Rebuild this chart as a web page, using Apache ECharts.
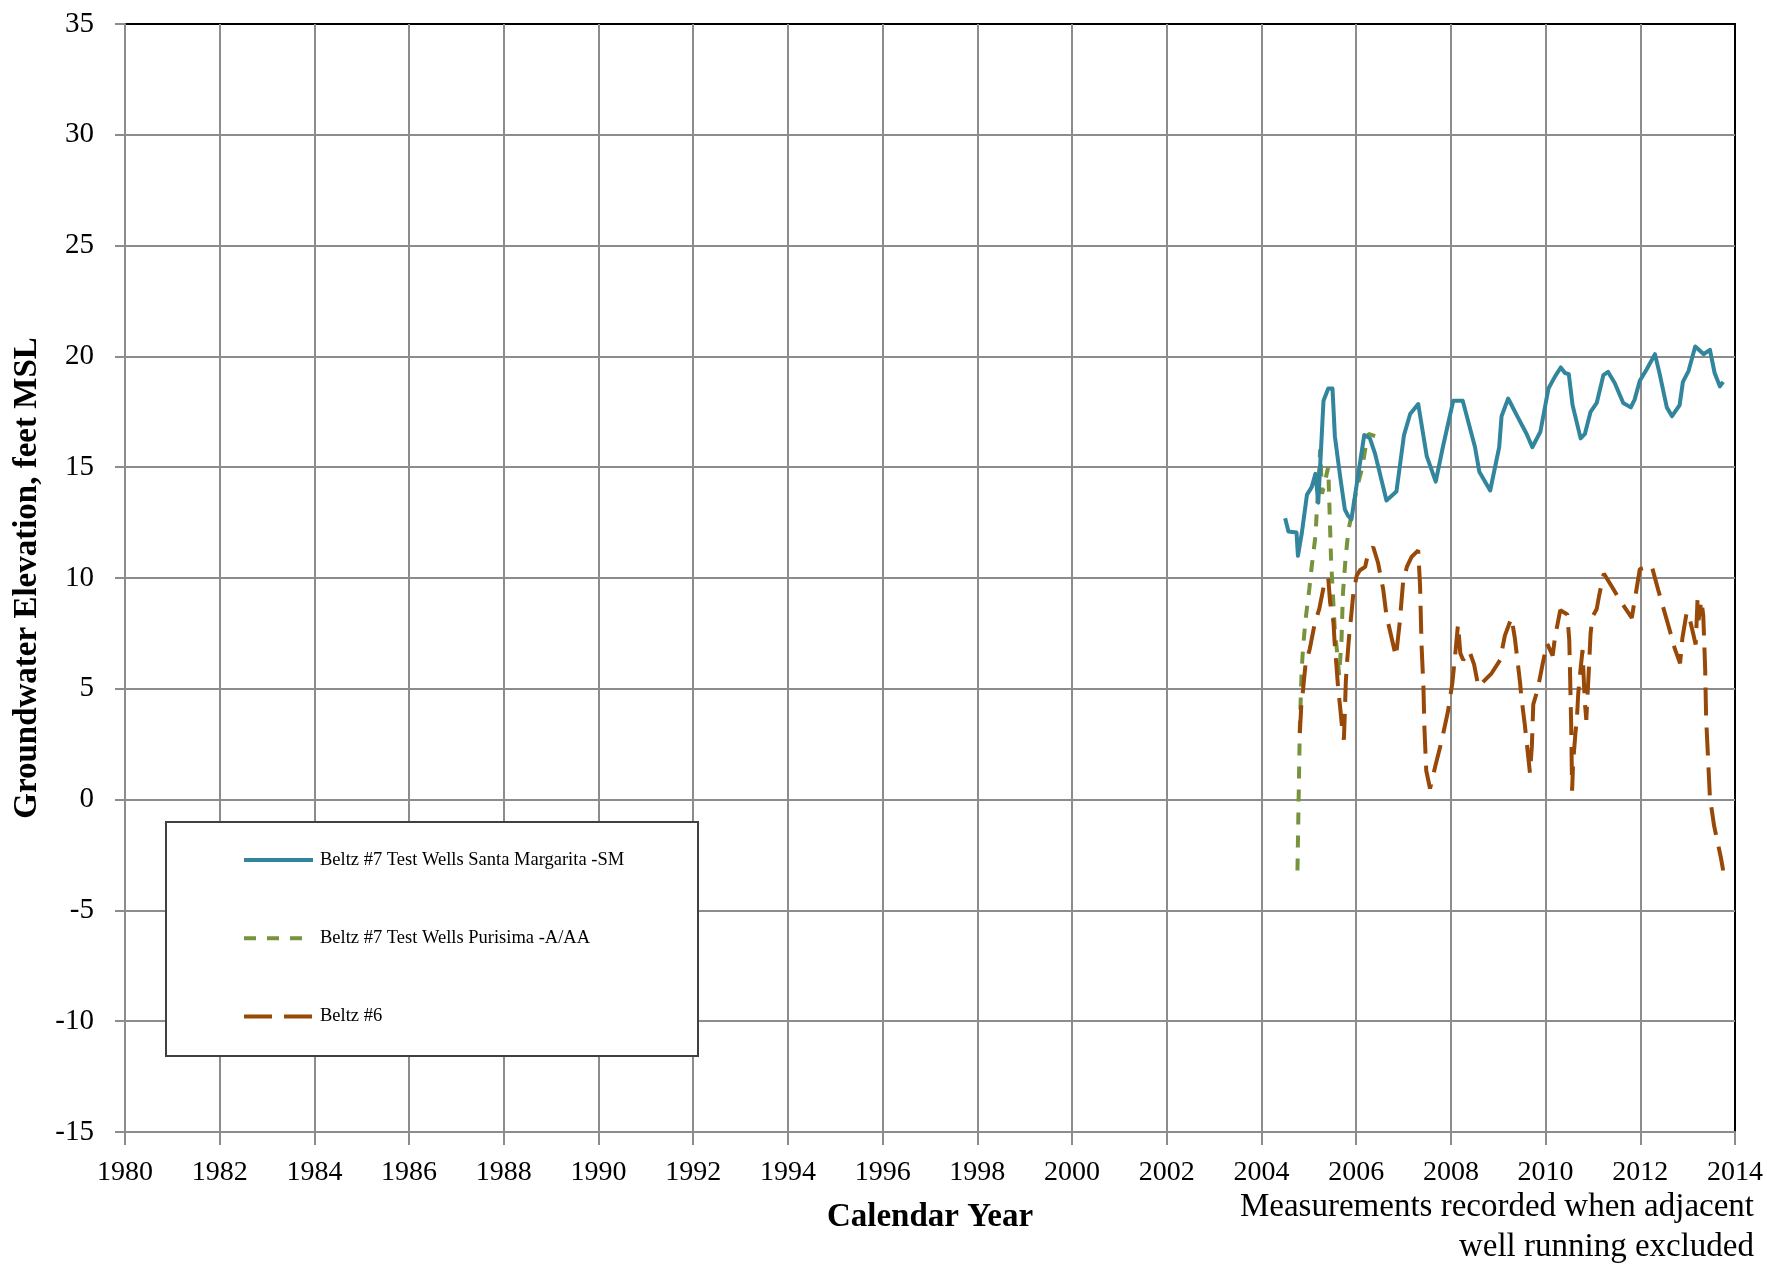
<!DOCTYPE html>
<html>
<head>
<meta charset="utf-8">
<title>Groundwater Elevation – Beltz Wells</title>
<script src="https://cdn.jsdelivr.net/npm/echarts@6/dist/echarts.min.js"></script>
<style>
  html, body { margin: 0; padding: 0; background: #fff; }
  #chart { width: 1767px; height: 1267px; }
</style>
</head>
<body>
<div id="chart"></div>
<script>
// Beltz #7 test wells, Santa Margarita (SM)
const smYears = [2004.50, 2004.57, 2004.74, 2004.77, 2004.85, 2004.96, 2005.06, 2005.14, 2005.20, 2005.31,
  2005.41, 2005.50, 2005.55, 2005.66, 2005.76, 2005.83, 2005.90, 2006.17, 2006.29, 2006.40,
  2006.64, 2006.85, 2007.01, 2007.14, 2007.31, 2007.49, 2007.68, 2007.83, 2008.05, 2008.25,
  2008.51, 2008.60, 2008.83, 2009.02, 2009.07, 2009.21, 2009.39, 2009.60, 2009.72, 2009.89,
  2010.06, 2010.20, 2010.32, 2010.41, 2010.49, 2010.57, 2010.74, 2010.83, 2010.95, 2011.08,
  2011.22, 2011.32, 2011.46, 2011.64, 2011.80, 2011.88, 2011.99, 2012.13, 2012.31, 2012.41,
  2012.56, 2012.67, 2012.83, 2012.90, 2013.02, 2013.16, 2013.34, 2013.47, 2013.57, 2013.68, 2013.75];
const smValues = [12.7, 12.1, 12.05, 11.0, 12.0, 13.75, 14.1, 14.7, 13.4, 18.0,
  18.55, 18.55, 16.4, 14.6, 13.1, 12.8, 12.65, 16.45, 16.3, 15.6,
  13.5, 13.9, 16.45, 17.4, 17.85, 15.5, 14.35, 15.9, 18.0, 18.0,
  15.9, 14.8, 13.95, 15.9, 17.3, 18.1, 17.35, 16.5, 15.9, 16.6,
  18.55, 19.1, 19.5, 19.25, 19.2, 17.8, 16.3, 16.5, 17.5, 17.9,
  19.15, 19.3, 18.8, 17.9, 17.7, 18.05, 18.9, 19.4, 20.1, 19.2,
  17.7, 17.3, 17.8, 18.85, 19.35, 20.45, 20.1, 20.3, 19.25, 18.65, 18.85];

// Beltz #7 test wells, Purisima (A/AA)
const puYears = [2004.76, 2004.79, 2004.81, 2004.85, 2004.88, 2004.93, 2005.01, 2005.06, 2005.14, 2005.17,
  2005.20, 2005.24, 2005.28, 2005.41, 2005.45, 2005.47, 2005.50, 2005.55, 2005.61, 2005.64,
  2005.69, 2005.72, 2005.78, 2005.84, 2005.91, 2006.02, 2006.13, 2006.19, 2006.26, 2006.40];
const puValues = [-3.2, 0.7, 3.3, 5.9, 6.9, 8.1, 9.5, 10.5, 11.9, 13.1,
  14.1, 15.8, 13.8, 15.0, 12.2, 10.8, 9.6, 7.6, 6.4, 5.6,
  7.2, 9.3, 11.0, 12.2, 12.9, 14.1, 15.0, 15.8, 16.5, 16.4];

// Beltz #6
const b6Years = [2004.81, 2004.84, 2004.88, 2004.93, 2005.02, 2005.13, 2005.22, 2005.34, 2005.41, 2005.45,
  2005.52, 2005.55, 2005.58, 2005.62, 2005.66, 2005.70, 2005.74, 2005.76, 2005.78, 2005.80,
  2005.85, 2005.90, 2005.94, 2006.01, 2006.08, 2006.19, 2006.25, 2006.36, 2006.46, 2006.57,
  2006.64, 2006.84, 2006.92, 2006.99, 2007.07, 2007.17, 2007.31, 2007.35, 2007.38, 2007.42,
  2007.44, 2007.48, 2007.56, 2007.67, 2007.80, 2007.94, 2008.03, 2008.09, 2008.15, 2008.20,
  2008.26, 2008.39, 2008.49, 2008.58, 2008.86, 2009.04, 2009.14, 2009.28, 2009.35, 2009.46,
  2009.49, 2009.56, 2009.67, 2009.71, 2009.74, 2009.83, 2009.94, 2010.03, 2010.06, 2010.15,
  2010.20, 2010.31, 2010.46, 2010.50, 2010.52, 2010.54, 2010.56, 2010.58, 2010.63, 2010.66,
  2010.69, 2010.73, 2010.78, 2010.81, 2010.83, 2010.86, 2010.88, 2010.91, 2010.95, 2010.99,
  2011.08, 2011.13, 2011.23, 2011.43, 2011.60, 2011.82, 2011.99, 2012.24, 2012.38, 2012.62,
  2012.73, 2012.84, 2012.89, 2012.98, 2013.05, 2013.17, 2013.21, 2013.23, 2013.29, 2013.33,
  2013.37, 2013.39, 2013.47, 2013.56, 2013.70, 2013.75];
const b6Values = [3.0, 4.2, 5.0, 6.1, 6.8, 8.0, 8.6, 9.9, 10.0, 8.9,
  8.0, 6.9, 6.15, 5.0, 4.2, 3.3, 2.7, 3.9, 5.25, 6.0,
  7.35, 8.4, 9.3, 10.1, 10.35, 10.5, 11.1, 11.4, 10.7, 9.5,
  8.3, 6.45, 8.0, 9.8, 10.5, 10.95, 11.25, 9.6, 7.0, 5.1,
  3.3, 1.3, 0.5, 1.5, 2.6, 4.0, 5.25, 6.5, 7.9, 6.6,
  6.3, 6.7, 6.1, 5.1, 5.7, 6.3, 7.4, 8.2, 7.3, 5.3,
  4.6, 3.4, 1.2, 2.4, 4.3, 4.95, 6.15, 7.05, 7.1, 6.5,
  7.35, 8.55, 8.35, 7.2, 5.4, 3.4, 0.4, 1.6, 3.0, 3.6,
  4.8, 5.7, 6.75, 5.25, 4.35, 3.6, 4.5, 5.7, 7.5, 8.25,
  8.6, 9.2, 10.2, 9.5, 8.9, 8.2, 10.4, 10.55, 9.45, 7.65,
  6.8, 6.15, 7.3, 8.45, 8.1, 7.0, 9.1, 8.1, 9.0, 8.3,
  5.9, 3.7, 0.1, -1.2, -2.6, -3.2];

const seriesNames = [
  'Beltz #7 Test Wells Santa Margarita -SM',
  'Beltz #7 Test Wells Purisima -A/AA',
  'Beltz #6'
];
const yearTicks = { min: 1980, max: 2014, step: 2 };
const elevTicks = { min: -15, max: 35, step: 5 };
const noteLines = ['Measurements recorded when adjacent', 'well running excluded'];

const zip = (xs, ys) => xs.map((x, i) => [x, ys[i]]);

const FONT = "'Liberation Serif', 'Times New Roman', serif";
const GRID_GRAY = '#8c8c8c';
const LINE_W = 4;

const chart = echarts.init(document.getElementById('chart'), null, { renderer: 'canvas' });

chart.setOption({
  animation: false,
  backgroundColor: '#ffffff',
  textStyle: { fontFamily: FONT, color: '#000' },
  grid: {
    left: 125, right: 32, top: 24, bottom: 135,
    show: true, borderColor: '#000', borderWidth: 2, backgroundColor: 'transparent'
  },
  xAxis: {
    type: 'value',
    min: yearTicks.min, max: yearTicks.max, interval: yearTicks.step,
    name: 'Calendar Year',
    nameLocation: 'middle',
    nameGap: 69,
    nameTextStyle: { fontFamily: FONT, fontSize: 33, fontWeight: 'bold', color: '#000' },
    axisLine: { show: true, onZero: false, lineStyle: { color: GRID_GRAY, width: 2 } },
    axisTick: { show: true, inside: false, length: 13, lineStyle: { color: GRID_GRAY, width: 2 } },
    axisLabel: { fontFamily: FONT, fontSize: 28, color: '#000', margin: 27, formatter: v => String(v) },
    splitLine: { show: true, showMaxLine: false, lineStyle: { color: GRID_GRAY, width: 2 } }
  },
  yAxis: {
    type: 'value',
    min: elevTicks.min, max: elevTicks.max, interval: elevTicks.step,
    name: 'Groundwater Elevation, feet MSL',
    nameLocation: 'middle',
    nameRotate: 90,
    nameGap: 80,
    nameTextStyle: { fontFamily: FONT, fontSize: 33, fontWeight: 'bold', color: '#000' },
    axisLine: { show: true, onZero: false, lineStyle: { color: GRID_GRAY, width: 2 } },
    axisTick: { show: true, inside: false, length: 10, lineStyle: { color: GRID_GRAY, width: 2 } },
    axisLabel: { fontFamily: FONT, fontSize: 29, color: '#000', margin: 31 },
    splitLine: { show: true, showMaxLine: false, lineStyle: { color: GRID_GRAY, width: 2 } }
  },
  legend: {
    show: true,
    orient: 'vertical',
    left: 242, top: 849,
    padding: 0,
    itemWidth: 69, itemHeight: 14, itemGap: 56.3,
    itemStyle: { color: 'rgba(0,0,0,0)', borderColor: 'rgba(0,0,0,0)', borderWidth: 0, opacity: 0 },
    lineStyle: { width: LINE_W },
    textStyle: { fontFamily: FONT, fontSize: 18.5, lineHeight: 22, color: '#000', padding: [0, 0, 0, 2] },
    data: seriesNames,
    z: 10
  },
  graphic: [
    {
      type: 'rect',
      z: 5,
      shape: { x: 166, y: 822, width: 532, height: 234 },
      style: { fill: '#fff', stroke: '#404040', lineWidth: 2 }
    },
    {
      type: 'text',
      z: 5,
      x: 1754, y: 1187,
      style: {
        text: noteLines.join('\n'),
        font: "33px 'Liberation Serif', 'Times New Roman', serif",
        fill: '#000', align: 'right', verticalAlign: 'top', lineHeight: 40.5
      }
    }
  ],
  series: [
    {
      name: seriesNames[0], type: 'line', data: zip(smYears, smValues),
      symbol: 'none', smooth: false, z: 4,
      lineStyle: { color: '#31859C', width: LINE_W, type: 'solid', join: 'round' },
      itemStyle: { color: '#31859C' }
    },
    {
      name: seriesNames[1], type: 'line', data: zip(puYears, puValues),
      symbol: 'none', smooth: false, z: 3,
      lineStyle: { color: '#77933C', width: LINE_W, type: [12, 11], cap: 'butt' },
      itemStyle: { color: '#77933C' }
    },
    {
      name: seriesNames[2], type: 'line', data: zip(b6Years, b6Values),
      symbol: 'none', smooth: false, z: 3,
      lineStyle: { color: '#984807', width: LINE_W, type: [28, 12], cap: 'butt' },
      itemStyle: { color: '#984807' }
    }
  ]
});
</script>
</body>
</html>
